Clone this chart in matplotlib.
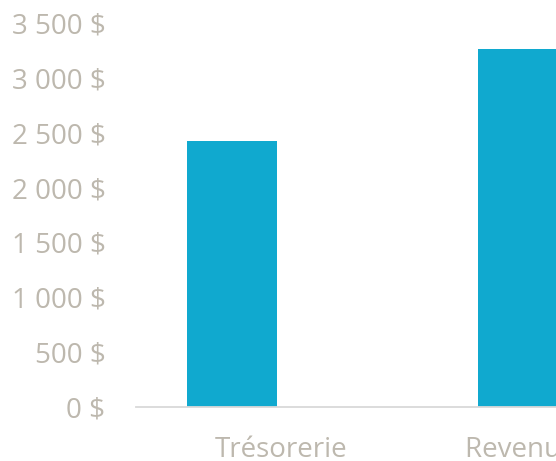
import matplotlib.pyplot as plt
from matplotlib.ticker import FuncFormatter, MultipleLocator

categories = ["Trésorerie", "Revenu mensuel"]
values = [2425, 3265]

bar_color = "#10A9CF"
text_color = "#BDB8AE"

plt.rcParams['font.family'] = ['Open Sans', 'DejaVu Sans']

fig = plt.figure(figsize=(5.56, 4.61), dpi=100)
# axes run past the right edge of the figure, like the cropped original
ax = fig.add_axes([136/556, (461-406.7)/461, 582/556, (406.7-23.4)/461])

x = list(range(len(categories)))
offset = -0.170
ax.bar([i + offset for i in x], values, width=0.307, color=bar_color, zorder=2)

ax.set_xlim(-0.5, len(categories) - 0.5)
ax.set_ylim(0, 3500)
ax.yaxis.set_major_locator(MultipleLocator(500))
ax.yaxis.set_major_formatter(FuncFormatter(lambda v, p: f"{v:,.0f}".replace(",", " ") + " $"))
ax.set_xticks(x)
ax.set_xticklabels(categories)

for s in ["top", "right", "left"]:
    ax.spines[s].set_visible(False)
ax.spines["bottom"].set_color("#D9D9D9")
ax.spines["bottom"].set_linewidth(1.3)

ax.tick_params(axis="y", length=0, pad=22, labelsize=20, labelcolor=text_color)
ax.tick_params(axis="x", length=0, pad=21, labelsize=20, labelcolor=text_color)

fig.savefig("out.png", dpi=100)
